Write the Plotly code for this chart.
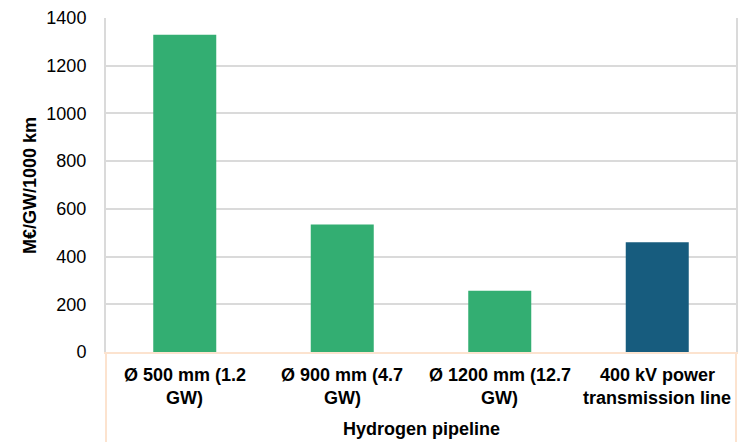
import plotly.graph_objects as go

categories = ["Ø 500 mm (1.2<br>GW)", "Ø 900 mm (4.7<br>GW)", "Ø 1200 mm (12.7<br>GW)", "400 kV power<br>transmission line"]
values = [1330, 534, 257, 460]
colors = ["#33AE72", "#33AE72", "#33AE72", "#175C7E"]
group_label = "Hydrogen pipeline"
y_title = "M€/GW/1000 km"
y_ticks = [0, 200, 400, 600, 800, 1000, 1200, 1400]

xpos = list(range(len(categories)))
font = "Liberation Sans, Arial, sans-serif"
peach = "#FCE3CF"
grid = "#DADADA"
PH = 334.0  # plot height in px
FS = 18

fig = go.Figure(go.Bar(x=xpos, y=values, marker=dict(color=colors, line=dict(width=0)), width=0.4))

annotations = []
for i, c in enumerate(categories):
    for j, line in enumerate(c.split("<br>")):
        annotations.append(dict(
            text="<b>" + line + "</b>", x=i, xref="x", y=(352 - (375 + 23 * j)) / PH, yref="paper",
            xanchor="center", yanchor="middle", showarrow=False,
            font=dict(family=font, size=FS, color="#000"),
        ))
annotations.append(dict(
    text="<b>" + group_label + "</b>", x=0.5, xref="paper", y=(352 - 429) / PH, yref="paper",
    xanchor="center", yanchor="middle", showarrow=False,
    font=dict(family=font, size=FS, color="#000"),
))
annotations.append(dict(
    text="<b>" + y_title + "</b>", x=(30 - 106) / 630.0, xref="paper", y=(352 - 186) / PH, yref="paper",
    xanchor="center", yanchor="middle", showarrow=False, textangle=-90,
    font=dict(family=font, size=FS, color="#000"),
))

fig.update_layout(
    width=742, height=442,
    margin=dict(l=106, r=6, t=18, b=90),
    paper_bgcolor="white", plot_bgcolor="white",
    font=dict(family=font, size=FS, color="#000000"),
    showlegend=False,
    xaxis=dict(
        range=[-0.5, 3.5], tickvals=xpos, showticklabels=False,
        showgrid=False, showline=True, linecolor=peach, linewidth=2,
        ticks="", zeroline=False, automargin=False,
    ),
    yaxis=dict(
        range=[0, 1400], tickvals=y_ticks, showgrid=True, gridcolor=grid, gridwidth=1.5,
        showline=True, linecolor=grid, linewidth=2, mirror=True, ticks="",
        ticklabelstandoff=14, automargin=False,
        tickfont=dict(family=font, size=FS, color="#000"), zeroline=False,
    ),
    annotations=annotations,
    shapes=[
        dict(type="line", xref="paper", yref="paper", x0=0, x1=0, y0=-90 / PH, y1=0, line=dict(color=peach, width=2)),
        dict(type="line", xref="paper", yref="paper", x0=1, x1=1, y0=-90 / PH, y1=0, line=dict(color=peach, width=2)),
    ],
)

fig.write_html("out.html", config={"displayModeBar": False},
               post_script="document.body.style.margin='0';document.body.style.overflow='hidden';")
